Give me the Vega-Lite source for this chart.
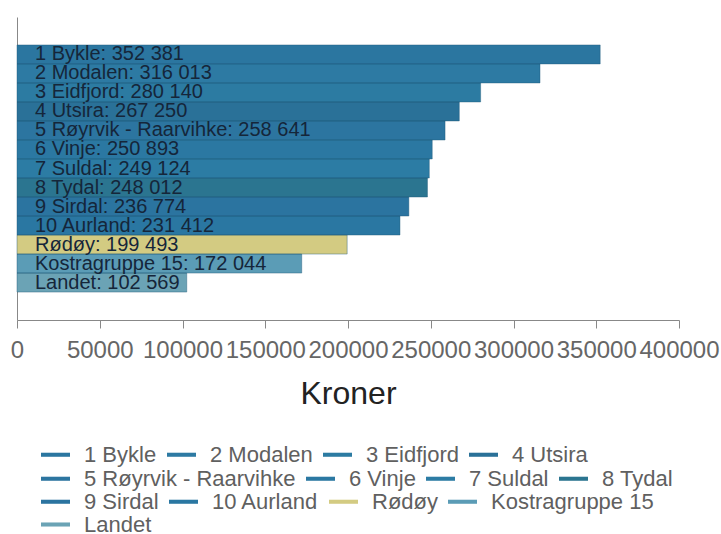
{
  "$schema": "https://vega.github.io/schema/vega-lite/v6.json",
  "width": 662,
  "height": 303,
  "autosize": {"type": "none"},
  "padding": {"left": 17, "top": 17, "right": 42, "bottom": 214},
  "background": "white",
  "config": {
    "view": {"stroke": null},
    "legend": {
      "title": null,
      "orient": "none",
      "direction": "horizontal",
      "symbolType": "M-1,-0.14H1V0.14H-1Z",
      "symbolSize": 841,
      "symbolStrokeWidth": 0,
      "labelFont": "Liberation Sans",
      "labelFontSize": 22,
      "labelColor": "#606060",
      "labelOffset": 14,
      "labelLimit": 400,
      "columnPadding": 10
    }
  },
  "data": {
    "values": [
      {"name": "1 Bykle", "value": 352381, "label": "1 Bykle: 352 381"},
      {"name": "2 Modalen", "value": 316013, "label": "2 Modalen: 316 013"},
      {"name": "3 Eidfjord", "value": 280140, "label": "3 Eidfjord: 280 140"},
      {"name": "4 Utsira", "value": 267250, "label": "4 Utsira: 267 250"},
      {"name": "5 Røyrvik - Raarvihke", "value": 258641, "label": "5 Røyrvik - Raarvihke: 258 641"},
      {"name": "6 Vinje", "value": 250893, "label": "6 Vinje: 250 893"},
      {"name": "7 Suldal", "value": 249124, "label": "7 Suldal: 249 124"},
      {"name": "8 Tydal", "value": 248012, "label": "8 Tydal: 248 012"},
      {"name": "9 Sirdal", "value": 236774, "label": "9 Sirdal: 236 774"},
      {"name": "10 Aurland", "value": 231412, "label": "10 Aurland: 231 412"},
      {"name": "Rødøy", "value": 199493, "label": "Rødøy: 199 493"},
      {"name": "Kostragruppe 15", "value": 172044, "label": "Kostragruppe 15: 172 044"},
      {"name": "Landet", "value": 102569, "label": "Landet: 102 569"}
    ]
  },
  "encoding": {
    "y": {
      "field": "name",
      "type": "nominal",
      "sort": null,
      "scale": {
        "domain": [" ", "1 Bykle", "2 Modalen", "3 Eidfjord", "4 Utsira", "5 Røyrvik - Raarvihke", "6 Vinje", "7 Suldal", "8 Tydal", "9 Sirdal", "10 Aurland", "Rødøy", "Kostragruppe 15", "Landet", "  "],
        "paddingInner": 0,
        "paddingOuter": 0.47
      },
      "axis": {"labels": false, "ticks": false, "title": null, "domainColor": "#888888", "domainWidth": 1}
    },
    "x": {
      "type": "quantitative",
      "scale": {"domain": [0, 400000], "nice": false},
      "axis": {
        "title": "Kroner",
        "values": [0, 50000, 100000, 150000, 200000, 250000, 300000, 350000, 400000],
        "format": "d",
        "grid": false,
        "domainColor": "#888888",
        "tickColor": "#888888",
        "tickSize": 8,
        "labelFont": "Liberation Sans",
        "labelFontSize": 24,
        "labelColor": "#666666",
        "labelPadding": 10,
        "labelFlush": false,
        "labelOverlap": false,
        "titleFont": "Liberation Sans",
        "titleFontSize": 32,
        "titleFontWeight": "normal",
        "titleColor": "#222222",
        "titlePadding": 16
      }
    }
  },
  "layer": [
    {
      "transform": [{"filter": {"field": "name", "oneOf": ["1 Bykle", "2 Modalen", "3 Eidfjord", "4 Utsira"]}}],
      "mark": {"type": "bar"},
      "encoding": {
        "x": {"field": "value"},
        "color": {
          "field": "name", "type": "nominal", "sort": null,
          "scale": {"domain": ["1 Bykle", "2 Modalen", "3 Eidfjord", "4 Utsira"], "range": ["#2b76a0", "#2d7aa3", "#2c7ba2", "#2a7198"]},
          "legend": {"legendX": 24, "legendY": 423}
        }
      }
    },
    {
      "transform": [{"filter": {"field": "name", "oneOf": ["5 Røyrvik - Raarvihke", "6 Vinje", "7 Suldal", "8 Tydal"]}}],
      "mark": {"type": "bar"},
      "encoding": {
        "x": {"field": "value"},
        "fill": {
          "field": "name", "type": "nominal", "sort": null,
          "scale": {"domain": ["5 Røyrvik - Raarvihke", "6 Vinje", "7 Suldal", "8 Tydal"], "range": ["#2c75a0", "#2b78a2", "#2c7ca4", "#2b7590"]},
          "legend": {"legendX": 24, "legendY": 447}
        }
      }
    },
    {
      "transform": [{"filter": {"field": "name", "oneOf": ["9 Sirdal", "10 Aurland", "Rødøy", "Kostragruppe 15"]}}],
      "mark": {"type": "bar"},
      "encoding": {
        "x": {"field": "value"},
        "color": {
          "field": "name", "type": "nominal", "sort": null,
          "scale": {"domain": ["9 Sirdal", "10 Aurland", "Rødøy", "Kostragruppe 15"], "range": ["#2b74a0", "#2a77a2", "#d3cb82", "#5b9cb6"]},
          "legend": {"legendX": 24, "legendY": 470}
        }
      }
    },
    {
      "transform": [{"filter": {"field": "name", "oneOf": ["Landet"]}}],
      "mark": {"type": "bar"},
      "encoding": {
        "x": {"field": "value"},
        "fill": {
          "field": "name", "type": "nominal", "sort": null,
          "scale": {"domain": ["Landet"], "range": ["#6ba3b5"]},
          "legend": {"legendX": 24, "legendY": 493}
        }
      }
    },
    {
      "mark": {"type": "bar", "fillOpacity": 0, "stroke": "#1f5a78", "strokeWidth": 0.6, "strokeOpacity": 0.7},
      "encoding": {"x": {"field": "value"}}
    },
    {
      "mark": {"type": "text", "align": "left", "baseline": "middle", "dx": 18, "dy": 0, "font": "Liberation Sans", "fontSize": 20, "color": "#15263a"},
      "encoding": {
        "x": {"datum": 0},
        "text": {"field": "label"}
      }
    }
  ],
  "resolve": {"scale": {"color": "independent", "fill": "independent"}, "legend": {"color": "independent", "fill": "independent"}}
}
